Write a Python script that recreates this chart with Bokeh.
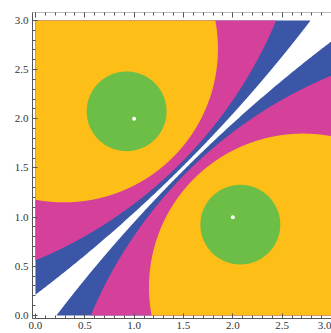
import numpy as np
from bokeh.plotting import figure
from bokeh.models import (ColumnDataSource, FixedTicker, LinearAxis,
                          NumeralTickFormatter, CustomJSTickFormatter)
from bokeh.embed import file_html
from bokeh.resources import INLINE

# Two point sources and the regions of constant distance ratio r_near / r_far around them
source_x = [1.0, 2.0]
source_y = [2.0, 1.0]
ratio_levels = [0.953, 0.856, 0.645, 0.266]
band_colors = ["#3B56A6", "#D5409B", "#FDBE18", "#6CBE46"]
domain = (0.0, 3.0)
major_ticks = [0.0, 0.5, 1.0, 1.5, 2.0, 2.5, 3.0]
minor_ticks = [round(0.1 * i, 1) for i in range(31)]


def apollonius_disk(ax, ay, bx, by, k, n=12000):
    """Points where dist(P, A) / dist(P, B) = k (k < 1): a circle around A."""
    d = np.hypot(ax - bx, ay - by)
    cx = (ax - k * k * bx) / (1 - k * k)
    cy = (ay - k * k * by) / (1 - k * k)
    r = k * d / (1 - k * k)
    t = np.linspace(0, 2 * np.pi, n, endpoint=False)
    return cx + r * np.cos(t), cy + r * np.sin(t)


def clip_to_box(xs, ys, lo, hi):
    """Sutherland-Hodgman clip of a polygon against the square [lo, hi]^2."""
    pts = list(zip(xs, ys))
    edges = [(0, lo, True), (0, hi, False), (1, lo, True), (1, hi, False)]
    for dim, bound, keep_above in edges:
        def inside(p):
            return p[dim] >= bound if keep_above else p[dim] <= bound

        def cross(p, q):
            t = (bound - p[dim]) / (q[dim] - p[dim])
            return (p[0] + t * (q[0] - p[0]), p[1] + t * (q[1] - p[1]))

        out = []
        for i in range(len(pts)):
            cur, prev = pts[i], pts[i - 1]
            if inside(cur):
                if not inside(prev):
                    out.append(cross(prev, cur))
                out.append(cur)
            elif inside(prev):
                out.append(cross(prev, cur))
        pts = out
        if not pts:
            break
    return [p[0] for p in pts], [p[1] for p in pts]


patch_xs, patch_ys, patch_colors = [], [], []
for k, color in zip(ratio_levels, band_colors):
    for i in range(len(source_x)):
        j = 1 - i
        xs, ys = apollonius_disk(source_x[i], source_y[i], source_x[j], source_y[j], k)
        cxs, cys = clip_to_box(xs, ys, *domain)
        if cxs:
            patch_xs.append(cxs)
            patch_ys.append(cys)
            patch_colors.append(color)

p = figure(
    width=331, height=333,
    x_range=(-0.03, 3.0), y_range=(-0.0305, 3.081),
    output_backend="svg", toolbar_location=None,
    min_border_left=32, min_border_right=0, min_border_top=12, min_border_bottom=15,
    background_fill_color="white", border_fill_color="white",
)
p.outline_line_color = None
p.xgrid.visible = False
p.ygrid.visible = False

p.patches("xs", "ys", fill_color="color", line_color=None,
          source=ColumnDataSource(dict(xs=patch_xs, ys=patch_ys, color=patch_colors)))
p.scatter(source_x, source_y, size=4, fill_color="white", line_color=None)

bottom_axis = p.below[0]
left_axis = p.left[0]
top_axis = LinearAxis()
p.add_layout(top_axis, "above")

for ax in (bottom_axis, left_axis, top_axis):
    ax.ticker = FixedTicker(ticks=major_ticks, minor_ticks=minor_ticks)
    ax.formatter = NumeralTickFormatter(format="0.0")
    ax.axis_line_color = "#555555"
    ax.major_tick_line_color = "#555555"
    ax.minor_tick_line_color = "#555555"
    ax.major_tick_in = 5
    ax.major_tick_out = 0
    ax.minor_tick_in = 3
    ax.minor_tick_out = 0
    ax.major_label_text_font = "Liberation Serif"
    ax.major_label_text_font_size = "11px"
    ax.major_label_text_color = "#333333"
    ax.major_label_standoff = 4

# the top frame edge carries ticks only
top_axis.axis_line_color = "#BBBBBB"
top_axis.formatter = CustomJSTickFormatter(code="return ''")
top_axis.major_label_standoff = 0
bottom_axis.major_label_standoff = 3

open("out.html", "w").write(file_html(p, INLINE))
